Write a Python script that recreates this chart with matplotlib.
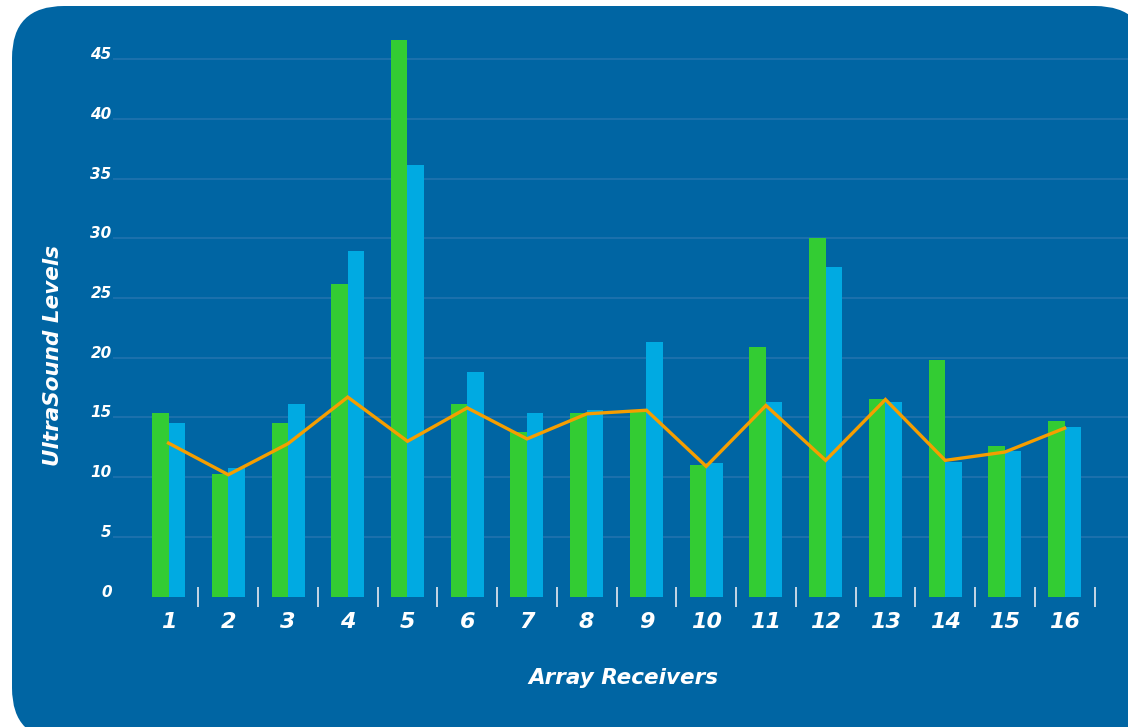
import matplotlib
matplotlib.use("Agg")
import numpy as np
import matplotlib.pyplot as plt
from matplotlib.patches import FancyBboxPatch

# values
receivers = list(range(1, 17))
green_vals = [15.4, 10.3, 14.5, 26.2, 46.6, 16.1, 13.8, 15.4, 15.6, 11.0, 20.9, 30.0, 16.5, 19.8, 12.6, 14.7]
blue_vals = [14.5, 10.8, 16.1, 28.9, 36.1, 18.8, 15.4, 15.6, 21.3, 11.2, 16.3, 27.6, 16.3, 11.3, 12.2, 14.2]
line_vals = [12.85, 10.2, 12.8, 16.7, 13.0, 15.8, 13.2, 15.3, 15.6, 10.9, 16.0, 11.4, 16.5, 11.4, 12.1, 14.1]
y_ticks = [5, 10, 15, 20, 25, 30, 35, 40, 45]
y_labels = [0, 5, 10, 15, 20, 25, 30, 35, 40, 45]

PANEL = "#0065a3"
GREEN = "#33cc33"
BLUE = "#00aae2"
ORANGE = "#f59e00"
GRID = "#2474b0"

plt.rcParams["font.family"] = ["DejaVu Sans"]

fig = plt.figure(figsize=(11.28, 7.27), dpi=100)
fig.patch.set_facecolor("white")

# rounded blue panel behind everything (pixel coordinates)
bg = fig.add_axes([0, 0, 1, 1], zorder=0)
bg.set_xlim(0, 1128)
bg.set_ylim(727, 0)
bg.axis("off")
bg.add_patch(FancyBboxPatch((12, 6), 1135, 734,
                            boxstyle="round,pad=0,rounding_size=52",
                            facecolor=PANEL, edgecolor="none"))

ax = fig.add_axes([0.1002, 0.1795, 0.8998, 0.7801], zorder=1)
ax.set_facecolor("none")
for s in ax.spines.values():
    s.set_visible(False)

x = np.array(receivers, dtype=float)
w = 0.276
ax.bar(x - w / 2, green_vals, width=w, color=GREEN, zorder=3)
ax.bar(x + w / 2, blue_vals, width=w, color=BLUE, zorder=3)
ax.plot(x, line_vals, color=ORANGE, lw=2.4, zorder=4, solid_joinstyle="miter")

ax.set_xlim(0.071, 17.06)
ax.set_ylim(0, 47.5)

# gridlines above zero only; labels include 0
ax.set_yticks(y_labels)
ax.set_yticklabels([str(v) for v in y_labels])
for v in y_ticks:
    ax.axhline(v, color=GRID, lw=1.1, zorder=0)
ax.tick_params(axis="y", length=0, pad=1, labelcolor="white", labelsize=11)
for lab in ax.get_yticklabels():
    lab.set_fontstyle("italic")
    lab.set_fontweight("bold")
    lab.set_va("baseline")

ax.set_xticks(x)
ax.set_xticklabels([str(r) for r in receivers])
ax.set_xticks(x + 0.5, minor=True)
ax.tick_params(axis="x", which="major", length=0, pad=11, labelcolor="white", labelsize=16)
ax.tick_params(axis="x", which="minor", length=14, width=1.3, direction="inout", color="#d5dfea")
for lab in ax.get_xticklabels():
    lab.set_fontstyle("italic")
    lab.set_fontweight("bold")

ax.set_ylabel("UltraSound Levels", color="white", fontsize=15.5, fontstyle="italic", fontweight="bold")
ax.yaxis.set_label_coords(-0.0496, 0.425)
ax.set_xlabel("Array Receivers", color="white", fontsize=15.5, fontstyle="italic", fontweight="bold")
ax.xaxis.set_label_coords(0.503, -0.126)

fig.savefig("out.png", dpi=100, facecolor="white")
